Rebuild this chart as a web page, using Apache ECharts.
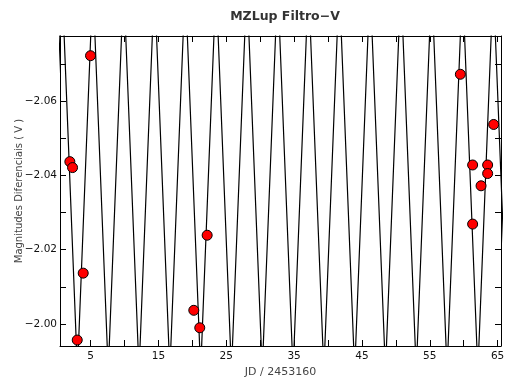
<!DOCTYPE html>
<html>
<head>
<meta charset="utf-8">
<script src="https://cdn.jsdelivr.net/npm/echarts@6/dist/echarts.min.js"></script>
<style>html,body{margin:0;padding:0;background:#fff}#c{width:506px;height:385px}</style>
</head>
<body>
<div id="c"></div>
<script>
// Observations (JD - 2453160, differential V magnitude)
const obsJD = [1.95, 2.35, 3.04, 3.92, 5.0, 20.22, 21.1, 22.19, 59.51, 64.42, 61.32, 63.53, 63.53, 62.56, 61.32];
const obsMag = [-2.0437, -2.0421, -1.9957, -2.0137, -2.0722, -2.0037, -1.999, -2.0239, -2.0672, -2.0537, -2.0428, -2.0428, -2.0405, -2.0372, -2.0269];

// Model curve: vertices of the plotted zig-zag
const modelJD = [-1.47, 0.80, 3.07, 5.34, 7.61, 9.88, 12.15, 14.42, 16.69, 18.96, 21.23, 23.50, 25.77, 28.04,
  30.31, 32.58, 34.85, 37.12, 39.39, 41.66, 43.93, 46.20, 48.47, 50.74, 53.01, 55.28, 57.55, 59.82, 62.09, 64.36, 66.63];
const modelMag = [-1.9873, -2.0918, -1.9873, -2.0918, -1.9873, -2.0918, -1.9873, -2.0918, -1.9873, -2.0918, -1.9873,
  -2.0918, -1.9873, -2.0918, -1.9873, -2.0918, -1.9873, -2.0918, -1.9873, -2.0918, -1.9873, -2.0918, -1.9873, -2.0918,
  -1.9873, -2.0918, -1.9873, -2.0918, -1.9873, -2.0918, -1.9873];

// Axis ticks
const xRange = [0.5, 65.5];
const xTicks = [5, 10, 15, 20, 25, 30, 35, 40, 45, 50, 55, 60, 65];
const xLabels = [5, 15, 25, 35, 45, 55, 65];
const yRange = [-2.0775, -1.9941];
const yTicks = [-2.07, -2.06, -2.05, -2.04, -2.03, -2.02, -2.01, -2.00];
const yLabels = [-2.06, -2.04, -2.02, -2.00];

const scatterData = obsJD.map((x, i) => [x, obsMag[i]]);
const modelData = modelJD.map((x, i) => [x, modelMag[i]]);

const FONT = 'DejaVu Sans';
const axisLine = {show: true, onZero: false, lineStyle: {color: '#000', width: 1}};
const tick = (vals) => ({show: true, inside: true, length: 6, customValues: vals, lineStyle: {color: '#000', width: 1}});

const chart = echarts.init(document.getElementById('c'), null, {renderer: 'canvas'});
chart.setOption({
  animation: false,
  backgroundColor: '#fff',
  title: {
    text: 'MZLup Filtro\u2212V', left: 280, top: 5, textAlign: 'center',
    textStyle: {fontFamily: FONT, fontSize: 12.5, fontWeight: 'bold', color: '#333'}
  },
  grid: {left: 60, right: 5, top: 36, bottom: 39, containLabel: false, outerBoundsMode: 'none'},
  xAxis: [{
    type: 'value', min: xRange[0], max: xRange[1], position: 'bottom',
    name: 'JD / 2453160', nameLocation: 'middle', nameGap: 21, nameMoveOverlap: false,
    nameTextStyle: {fontFamily: FONT, fontSize: 11, color: '#444'},
    axisLine: axisLine, axisTick: tick(xTicks), splitLine: {show: false},
    axisLabel: {customValues: xLabels, fontFamily: FONT, fontSize: 10.5, color: '#111', margin: 5, hideOverlap: false}
  }, {
    type: 'value', min: xRange[0], max: xRange[1], position: 'top',
    axisLine: axisLine, axisTick: tick(xTicks), splitLine: {show: false}, axisLabel: {show: false}
  }],
  yAxis: [{
    type: 'value', min: yRange[0], max: yRange[1], inverse: true, position: 'left',
    name: 'Magnitudes Diferenciais ( V )', nameLocation: 'middle', nameGap: 36, nameRotate: 90, nameMoveOverlap: false,
    nameTextStyle: {fontFamily: FONT, fontSize: 10, color: '#444'},
    axisLine: axisLine, axisTick: tick(yTicks), splitLine: {show: false},
    axisLabel: {customValues: yLabels, fontFamily: FONT, fontSize: 10.5, color: '#111', margin: 3,
      formatter: v => (v < 0 ? '\u2212' : '') + Math.abs(v).toFixed(2)}
  }, {
    type: 'value', min: yRange[0], max: yRange[1], inverse: true, position: 'right',
    axisLine: axisLine, axisTick: tick(yTicks), splitLine: {show: false}, axisLabel: {show: false}
  }],
  series: [{
    type: 'line', data: modelData, showSymbol: false, symbol: 'none', clip: true,
    lineStyle: {color: '#000', width: 1.2}, z: 2, silent: true
  }, {
    type: 'scatter', data: scatterData, symbol: 'circle', symbolSize: 10,
    itemStyle: {color: '#ff0000', borderColor: '#000', borderWidth: 1, opacity: 1}, z: 3
  }]
});
</script>
</body>
</html>
